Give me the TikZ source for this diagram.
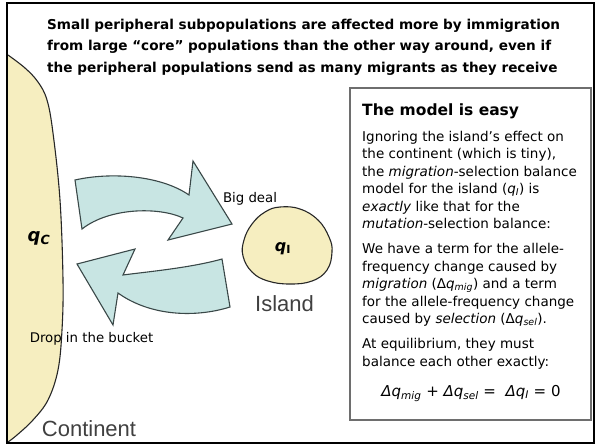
\documentclass[tikz,border=0pt]{standalone}
\usepackage{fontspec}
\setmainfont{DejaVu Sans}
\newfontfamily\arialf{Liberation Sans}
\definecolor{landfill}{HTML}{F6EEC0}
\definecolor{arrowfill}{HTML}{C8E5E3}
\definecolor{arrowline}{HTML}{3A4848}
\definecolor{boxline}{HTML}{6E6E6E}
\definecolor{geotext}{HTML}{404040}
\tikzset{
  hdr/.style={anchor=base west, inner sep=0pt, font=\fontsize{13.6}{16}\selectfont\bfseries},
  bodytxt/.style={anchor=base west, inner sep=0pt, font=\fontsize{13.5}{17}\selectfont},
  lbl/.style={anchor=base, inner sep=0pt, font=\fontsize{13.3}{16}\selectfont},
  geo/.style={anchor=base, inner sep=0pt, text=geotext, font=\arialf\fontsize{22}{24}\selectfont},
  blockarrow/.style={fill=arrowfill, draw=arrowline, line width=1.1pt, line join=miter},
  land/.style={fill=landfill, draw=black!85, line width=1.1pt},
}
\begin{document}
\begin{tikzpicture}[x=1pt, y=-1pt]
\useasboundingbox (0,0) rectangle (596,445);

% continent
\path[fill=landfill] plot[smooth, tension=0.6] coordinates {(8,55) (25,68) (38,82) (47,100) (53,133) (60,200) (63,280) (62,330) (58,370) (48,400) (33,420) (17,435) (8,442)} -- cycle;
\draw[black!85, line width=1.1pt] plot[smooth, tension=0.6] coordinates {(8,55) (25,68) (38,82) (47,100) (53,133) (60,200) (63,280) (62,330) (58,370) (48,400) (33,420) (17,435) (8,442)};

% island
\draw[land] plot[smooth cycle, tension=0.7] coordinates {(280,207) (300,209) (318,220) (329,237) (332,252) (327,270) (312,281) (290,284) (268,281) (252,272) (243,256) (244,240) (252,224) (265,212)};

% block arrows
\draw[blockarrow] (75,180) .. controls (110,172) and (160,175) .. (189,195) -- (193,161) -- (232,224) -- (168,240) -- (183,218) .. controls (160,207) and (110,207) .. (82,229) -- cycle;
\draw[blockarrow] (77,264) -- (135,249) -- (123,275) .. controls (145,272) and (190,268) .. (222,259) -- (230,307) .. controls (195,318) and (150,316) .. (118,293) -- (113,325) -- cycle;

% header
\node[hdr] (h1) at (47,29) {Small peripheral subpopulations are affected more by immigration};
\node[hdr] (h2) at (47,50.5) {from large “core” populations than the other way around, even if};
\node[hdr] (h3) at (47,72) {the peripheral populations send as many migrants as they receive};

% labels on the picture
\node[anchor=base, inner sep=0pt, font=\fontsize{18}{20}\selectfont\bfseries\itshape] (qc) at (39,241) {q\textsubscript{C}};
\node[anchor=base, inner sep=0pt, font=\fontsize{16}{18}\selectfont\bfseries] (qi) at (283,251) {\textit{q}\textsubscript{I}};
\node[lbl] (big) at (250,202) {Big deal};
\node[lbl] (drop) at (91.5,342.5) {Drop in the bucket};
\node[geo] (isl) at (284.5,311) {Island};
\node[geo] (cont) at (89,436) {Continent};

% model box
\draw[boxline, line width=1.3pt] (350,88) rectangle (591,420);
\node[anchor=base west, inner sep=0pt, font=\fontsize{15.5}{18}\selectfont\bfseries] (title) at (362,115) {The model is easy};
\node[bodytxt] (l1) at (362,141) {Ignoring the island’s effect on};
\node[bodytxt] (l2) at (362,158.5) {the continent (which is tiny),};
\node[bodytxt] (l3) at (362,176) {the \textit{migration}-selection balance};
\node[bodytxt] (l4) at (362,193.5) {model for the island (\textit{q}\textsubscript{\itshape I}) is};
\node[bodytxt] (l5) at (362,211) {\textit{exactly} like that for the};
\node[bodytxt] (l6) at (362,228.5) {\textit{mutation}-selection balance:};
\node[bodytxt] (l7) at (362,253.5) {We have a term for the allele-};
\node[bodytxt] (l8) at (362,271) {frequency change caused by};
\node[bodytxt] (l9) at (362,288.5) {\textit{migration} (Δ\textit{q}\textsubscript{\itshape mig}) and a term};
\node[bodytxt] (l10) at (362,306) {for the allele-frequency change};
\node[bodytxt] (l11) at (362,323.5) {caused by \textit{selection} (Δ\textit{q}\textsubscript{\itshape sel}).};
\node[bodytxt] (l12) at (362,348.5) {At equilibrium, they must};
\node[bodytxt] (l13) at (362,366) {balance each other exactly:};
\node[anchor=base, inner sep=0pt, font=\fontsize{15}{18}\selectfont] (eq) at (471,396) {\textit{Δq}\textsubscript{\itshape mig} + \textit{Δq}\textsubscript{\itshape sel} = \ \textit{Δq}\textsubscript{\itshape I} = 0};

% outer frame
\draw[black, line width=2.5pt] (7,3) rectangle (594,443);
\end{tikzpicture}
\end{document}
